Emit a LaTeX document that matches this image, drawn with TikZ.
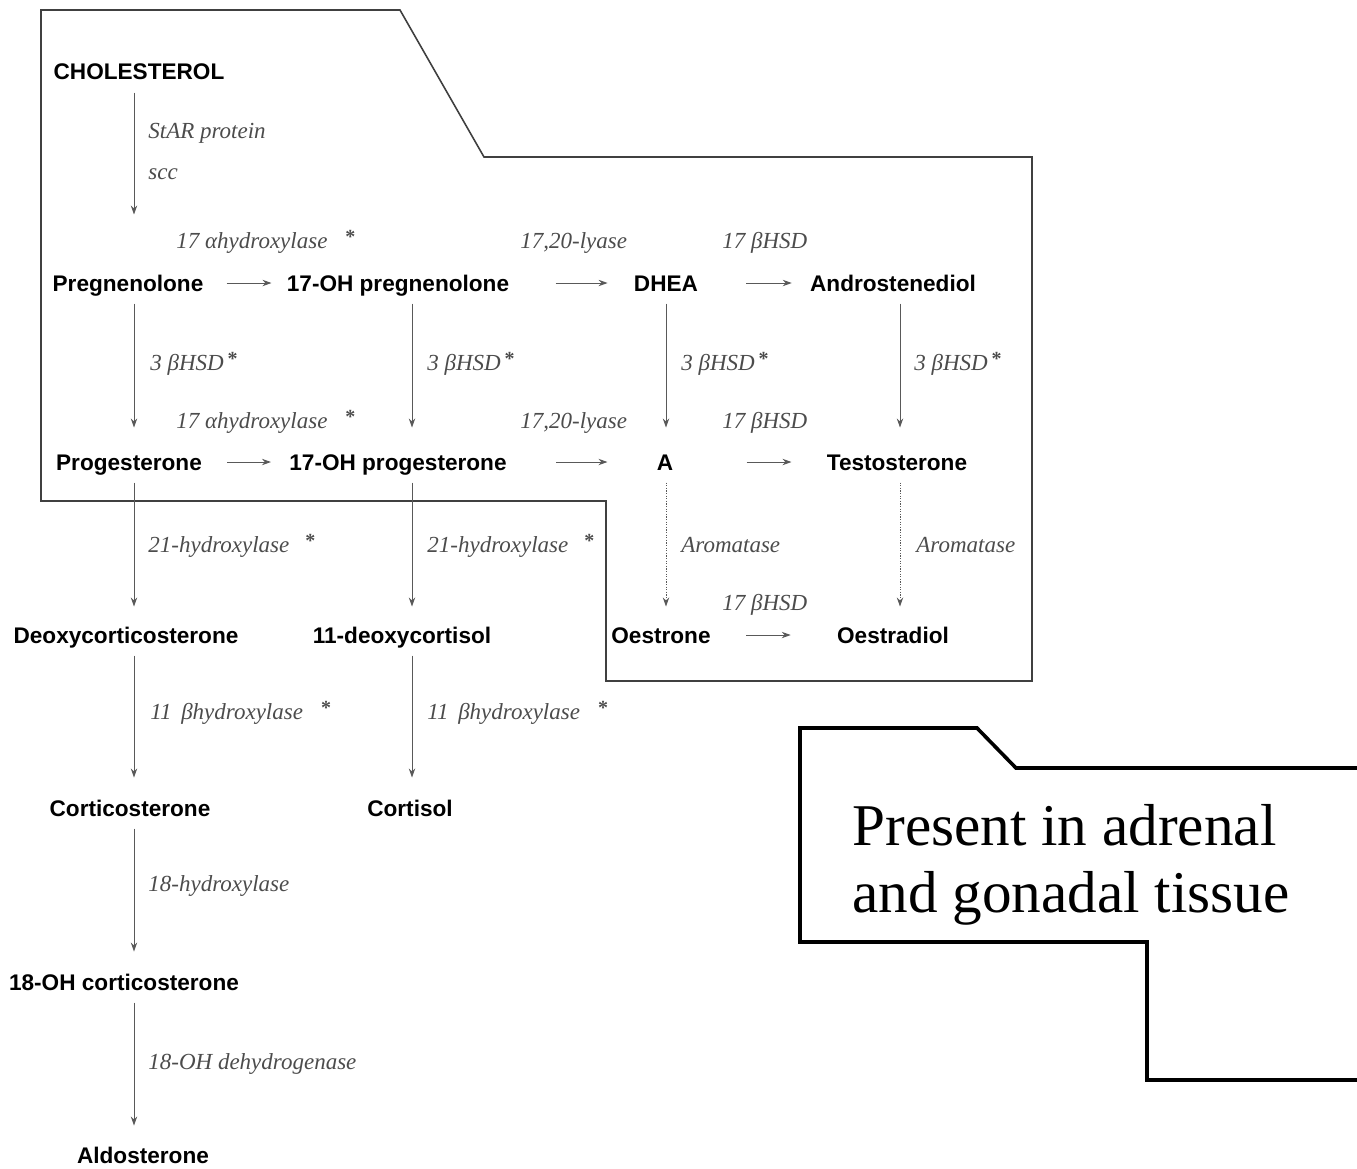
\documentclass[tikz,border=0pt]{standalone}
\usepackage{fontspec}
\setmainfont{Liberation Serif}
\setsansfont{Liberation Sans}
\usetikzlibrary{arrows.meta}
\newcommand{\astk}{\raisebox{2.5pt}{\upshape\bfseries\fontsize{10}{10}\selectfont *}}

\begin{document}
\begin{tikzpicture}[x=0.5pt, y=-0.5pt,
    cmp/.style={font=\sffamily\bfseries\fontsize{11.3}{12}\selectfont, text=black,
      inner sep=0pt, text height=8.1pt, text depth=0pt},
    enz/.style={font=\itshape\fontsize{11.5}{14}\selectfont, text=black!70,
      inner sep=0pt, text height=7.6pt, text depth=0pt, anchor=west},
    rxn/.style={draw=black!65, line width=0.5pt, -{Stealth[length=4.5pt,width=3.2pt]}},
    vrxn/.style={rxn, shorten <=6pt, shorten >=11pt},
    arom/.style={vrxn, dash pattern=on 0.6pt off 0.7pt},
    region/.style={draw=black!75, line width=0.8pt},
    legend/.style={draw=black, line width=1.8pt},
    legtext/.style={font=\rmfamily\fontsize{29.6}{33.5}\selectfont, inner sep=0pt, anchor=base west}]
    \useasboundingbox (0,0) rectangle (1357,1169);

    \draw [region] (41,10) -- (400,10) -- (484,157) -- (1032,157) -- (1032,681)
        -- (606,681) -- (606,501) -- (41,501) -- cycle;
    \draw [legend] (1357,768) -- (1016,768) -- (977,728) -- (800,728) -- (800,942)
        -- (1147,942) -- (1147,1080) -- (1357,1080);
    \node [legtext] (leg1) at (852,845) {Present in adrenal};
    \node [legtext] (leg2) at (852,912) {and gonadal tissue};

    \coordinate (c1) at (134,0);
    \coordinate (c2) at (412,0);
    \coordinate (c3) at (666,0);
    \coordinate (c4) at (900,0);

    \node [cmp] (chol) at (139,71) {CHOLESTEROL};
    \node [cmp] (preg) at (128,283) {Pregnenolone};
    \node [cmp] (ohpreg) at (398,283) {17-OH pregnenolone};
    \node [cmp] (dhea) at (666,283) {DHEA};
    \node [cmp] (andro) at (893,283) {Androstenediol};
    \node [cmp] (prog) at (129,462) {Progesterone};
    \node [cmp] (ohprog) at (398,462) {17-OH progesterone};
    \node [cmp] (andione) at (665,462) {A};
    \node [cmp] (testo) at (897,462) {Testosterone};
    \node [cmp] (doc) at (126,635) {Deoxycorticosterone};
    \node [cmp] (dcort) at (402,635) {11-deoxycortisol};
    \node [cmp] (oestrone) at (661,635) {Oestrone};
    \node [cmp] (oestradiol) at (893,635) {Oestradiol};
    \node [cmp] (cortico) at (130,808) {Corticosterone};
    \node [cmp] (cortisol) at (410,808) {Cortisol};
    \node [cmp] (ohcort) at (124,982) {18-OH corticosterone};
    \node [cmp] (aldo) at (143,1155) {Aldosterone};

    \draw [vrxn, shorten <=6.5pt, shorten >=30pt] (chol.south -| c1) -- (preg.north -| c1);
    \draw [vrxn, shorten >=13pt] (preg.south -| c1) -- (prog.north -| c1);
    \draw [vrxn, shorten >=13pt] (ohpreg.south -| c2) -- (ohprog.north -| c2);
    \draw [vrxn, shorten >=13pt] (dhea.south -| c3) -- (andione.north -| c3);
    \draw [vrxn, shorten >=13pt] (andro.south -| c4) -- (testo.north -| c4);
    \draw [vrxn, shorten >=10pt] (prog.south -| c1) -- (doc.north -| c1);
    \draw [vrxn, shorten >=10pt] (ohprog.south -| c2) -- (dcort.north -| c2);
    \draw [arom, shorten >=10pt] (andione.south -| c3) -- (oestrone.north -| c3);
    \draw [arom, shorten >=10pt] (testo.south -| c4) -- (oestradiol.north -| c4);
    \draw [vrxn] (doc.south -| c1) -- (cortico.north -| c1);
    \draw [vrxn] (dcort.south -| c2) -- (cortisol.north -| c2);
    \draw [vrxn] (cortico.south -| c1) -- (ohcort.north -| c1);
    \draw [vrxn, shorten >=10.5pt] (ohcort.south -| c1) -- (aldo.north -| c1);

    \draw [rxn, shorten <=11.5pt, shorten >=7.5pt] (preg) -- (ohpreg);
    \draw [rxn, shorten <=23pt, shorten >=13pt] (ohpreg) -- (dhea);
    \draw [rxn, shorten <=24pt, shorten >=9pt] (dhea) -- (andro);
    \draw [rxn, shorten <=12.5pt, shorten >=9pt] (prog) -- (ohprog);
    \draw [rxn, shorten <=24.5pt, shorten >=24.5pt] (ohprog) -- (andione);
    \draw [rxn, shorten <=36.5pt, shorten >=17.5pt] (andione) -- (testo);
    \draw [rxn, shorten <=17.5pt, shorten >=23pt] (oestrone) -- (oestradiol);

    \node [enz] (star) at (148,131) {StAR protein};
    \node [enz] (scc) at (148,172) {scc};
    \node [enz] (hyda) at (176,241) {17 αhydroxylase\hspace{9pt}\astk};
    \node [enz] (lyasea) at (520,241) {17,20-lyase};
    \node [enz] (hsda) at (722,241) {17 βHSD};
    \node [enz] (bhsda) at (150,363) {3 βHSD\,\astk};
    \node [enz] (bhsdb) at (427,363) {3 βHSD\,\astk};
    \node [enz] (bhsdc) at (681,363) {3 βHSD\,\astk};
    \node [enz] (bhsdd) at (914,363) {3 βHSD\,\astk};
    \node [enz] (hydb) at (176,421) {17 αhydroxylase\hspace{9pt}\astk};
    \node [enz] (lyaseb) at (520,421) {17,20-lyase};
    \node [enz] (hsdb) at (722,421) {17 βHSD};
    \node [enz] (hyda21) at (148,545) {21-hydroxylase\hspace{8pt}\astk};
    \node [enz] (hydb21) at (427,545) {21-hydroxylase\hspace{8pt}\astk};
    \node [enz] (aroma) at (681,545) {Aromatase};
    \node [enz] (aromb) at (916,545) {Aromatase};
    \node [enz] (hsdc) at (722,603) {17 βHSD};
    \node [enz] (hyda11) at (150,712) {11\, βhydroxylase\hspace{9pt}\astk};
    \node [enz] (hydb11) at (427,712) {11\, βhydroxylase\hspace{9pt}\astk};
    \node [enz] (hyd18) at (148,884) {18-hydroxylase};
    \node [enz] (dehyd18) at (148,1062) {18-OH dehydrogenase};
\end{tikzpicture}
\end{document}
